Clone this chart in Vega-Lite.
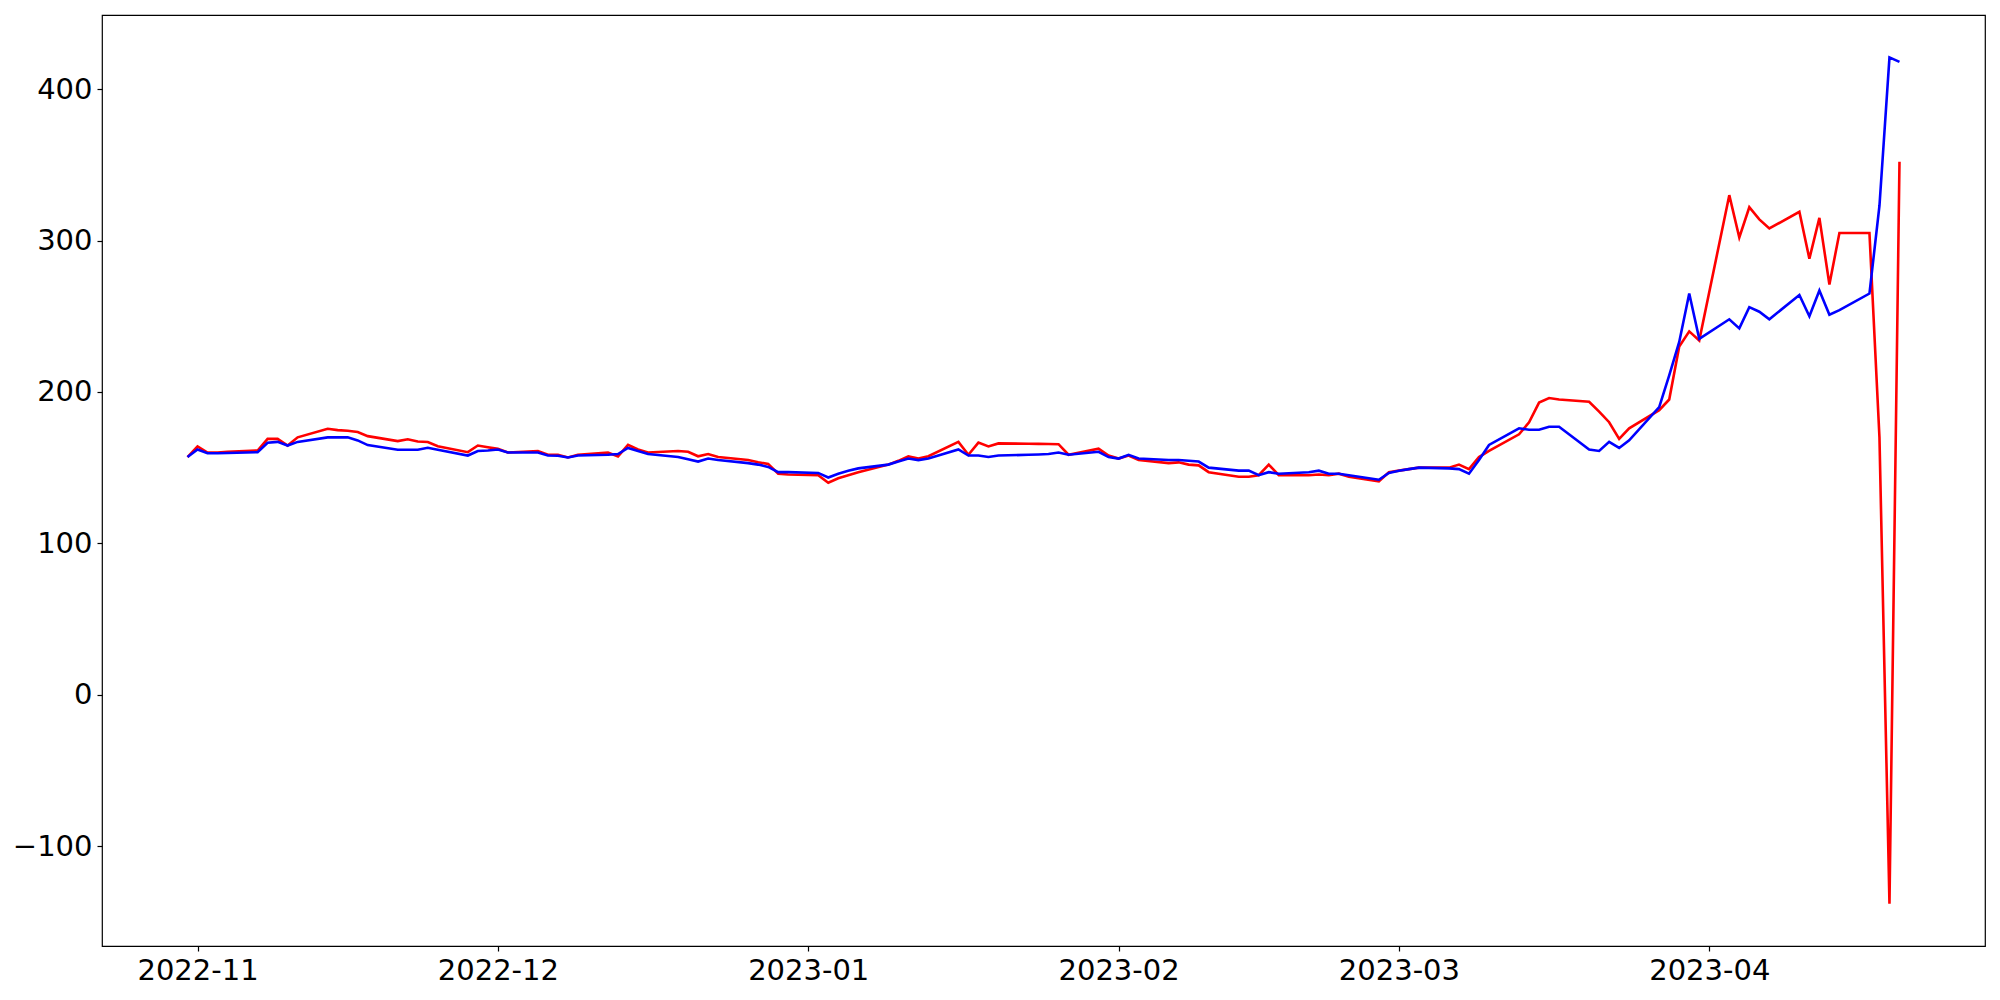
{
  "$schema": "https://vega.github.io/schema/vega-lite/v6.json",
  "autosize": "none",
  "width": 1883,
  "height": 931,
  "padding": {"left": 102, "top": 15, "right": 15, "bottom": 54},
  "background": "white",
  "config": {
    "font": "DejaVu Sans",
    "view": {"stroke": "black", "strokeWidth": 1.2},
    "axis": {
      "grid": false,
      "domain": false,
      "tickColor": "black",
      "tickSize": 5,
      "tickWidth": 1.2,
      "labelColor": "black",
      "labelFontSize": 29,
      "labelFont": "DejaVu Sans",
      "labelPadding": 5,
      "title": null
    }
  },
  "data": {
    "values": [
      {"date": "2022-10-31", "red": 157, "blue": 157},
      {"date": "2022-11-01", "red": 164, "blue": 162},
      {"date": "2022-11-02", "red": 160, "blue": 159.5},
      {"date": "2022-11-03", "red": 160, "blue": 159.5},
      {"date": "2022-11-04", "red": 160.5, "blue": 159.7},
      {"date": "2022-11-07", "red": 161.3, "blue": 160.2},
      {"date": "2022-11-08", "red": 169, "blue": 166.4},
      {"date": "2022-11-09", "red": 169, "blue": 167},
      {"date": "2022-11-10", "red": 164.6, "blue": 164.6},
      {"date": "2022-11-11", "red": 170, "blue": 167},
      {"date": "2022-11-14", "red": 175.7, "blue": 170},
      {"date": "2022-11-15", "red": 174.8, "blue": 170},
      {"date": "2022-11-16", "red": 174.4, "blue": 170},
      {"date": "2022-11-17", "red": 173.5, "blue": 168},
      {"date": "2022-11-18", "red": 170.8, "blue": 164.9},
      {"date": "2022-11-21", "red": 167.5, "blue": 161.8},
      {"date": "2022-11-22", "red": 168.7, "blue": 161.8},
      {"date": "2022-11-23", "red": 167.3, "blue": 161.8},
      {"date": "2022-11-24", "red": 166.9, "blue": 163.1},
      {"date": "2022-11-25", "red": 164.1, "blue": 161.8},
      {"date": "2022-11-28", "red": 160.2, "blue": 158},
      {"date": "2022-11-29", "red": 164.6, "blue": 161},
      {"date": "2022-11-30", "red": 163.5, "blue": 161.3},
      {"date": "2022-12-01", "red": 162.4, "blue": 162},
      {"date": "2022-12-02", "red": 160, "blue": 160},
      {"date": "2022-12-05", "red": 161, "blue": 160},
      {"date": "2022-12-06", "red": 158.5, "blue": 158},
      {"date": "2022-12-07", "red": 158.5, "blue": 157.8},
      {"date": "2022-12-08", "red": 156.7, "blue": 156.7},
      {"date": "2022-12-09", "red": 158.5, "blue": 158},
      {"date": "2022-12-12", "red": 160, "blue": 158.5},
      {"date": "2022-12-13", "red": 157.4, "blue": 159},
      {"date": "2022-12-14", "red": 165, "blue": 163},
      {"date": "2022-12-15", "red": 162, "blue": 161},
      {"date": "2022-12-16", "red": 160, "blue": 159},
      {"date": "2022-12-19", "red": 161, "blue": 157},
      {"date": "2022-12-20", "red": 160.5, "blue": 155.5},
      {"date": "2022-12-21", "red": 157.5, "blue": 154},
      {"date": "2022-12-22", "red": 159, "blue": 156},
      {"date": "2022-12-23", "red": 157, "blue": 155},
      {"date": "2022-12-26", "red": 155, "blue": 153},
      {"date": "2022-12-27", "red": 153.5, "blue": 152},
      {"date": "2022-12-28", "red": 152.5, "blue": 150.5},
      {"date": "2022-12-29", "red": 146, "blue": 147},
      {"date": "2022-12-30", "red": 145.5, "blue": 147},
      {"date": "2023-01-02", "red": 145, "blue": 146.5},
      {"date": "2023-01-03", "red": 140, "blue": 143.5},
      {"date": "2023-01-04", "red": 143, "blue": 146},
      {"date": "2023-01-05", "red": 145, "blue": 148},
      {"date": "2023-01-06", "red": 147, "blue": 149.5},
      {"date": "2023-01-09", "red": 152, "blue": 152},
      {"date": "2023-01-10", "red": 154.5, "blue": 154},
      {"date": "2023-01-11", "red": 157.5, "blue": 156},
      {"date": "2023-01-12", "red": 156, "blue": 155},
      {"date": "2023-01-13", "red": 157.5, "blue": 156},
      {"date": "2023-01-16", "red": 167, "blue": 162},
      {"date": "2023-01-17", "red": 158.5, "blue": 158},
      {"date": "2023-01-18", "red": 166.5, "blue": 158},
      {"date": "2023-01-19", "red": 164, "blue": 157},
      {"date": "2023-01-20", "red": 166, "blue": 158},
      {"date": "2023-01-23", "red": 165.8, "blue": 158.5},
      {"date": "2023-01-24", "red": 165.7, "blue": 158.7},
      {"date": "2023-01-25", "red": 165.6, "blue": 159},
      {"date": "2023-01-26", "red": 165.5, "blue": 160},
      {"date": "2023-01-27", "red": 158.5, "blue": 158.5},
      {"date": "2023-01-30", "red": 162.5, "blue": 160.5},
      {"date": "2023-01-31", "red": 158, "blue": 157},
      {"date": "2023-02-01", "red": 156, "blue": 156},
      {"date": "2023-02-02", "red": 158, "blue": 158.5},
      {"date": "2023-02-03", "red": 155, "blue": 156},
      {"date": "2023-02-06", "red": 153, "blue": 155},
      {"date": "2023-02-07", "red": 153.5, "blue": 155},
      {"date": "2023-02-08", "red": 152, "blue": 154.5},
      {"date": "2023-02-09", "red": 151.5, "blue": 154},
      {"date": "2023-02-10", "red": 147, "blue": 150},
      {"date": "2023-02-13", "red": 144, "blue": 148},
      {"date": "2023-02-14", "red": 144, "blue": 148},
      {"date": "2023-02-15", "red": 145, "blue": 145},
      {"date": "2023-02-16", "red": 152, "blue": 147},
      {"date": "2023-02-17", "red": 145, "blue": 146},
      {"date": "2023-02-20", "red": 145, "blue": 147},
      {"date": "2023-02-21", "red": 145.5, "blue": 148},
      {"date": "2023-02-22", "red": 145, "blue": 146},
      {"date": "2023-02-23", "red": 146, "blue": 146},
      {"date": "2023-02-24", "red": 144, "blue": 145},
      {"date": "2023-02-27", "red": 141, "blue": 142},
      {"date": "2023-02-28", "red": 147, "blue": 146.5},
      {"date": "2023-03-01", "red": 148, "blue": 148},
      {"date": "2023-03-02", "red": 149, "blue": 149},
      {"date": "2023-03-03", "red": 150, "blue": 150},
      {"date": "2023-03-06", "red": 150, "blue": 149.5},
      {"date": "2023-03-07", "red": 152, "blue": 149},
      {"date": "2023-03-08", "red": 149, "blue": 146},
      {"date": "2023-03-09", "red": 157, "blue": 155},
      {"date": "2023-03-10", "red": 161, "blue": 165},
      {"date": "2023-03-13", "red": 172, "blue": 176},
      {"date": "2023-03-14", "red": 180, "blue": 175},
      {"date": "2023-03-15", "red": 193, "blue": 175},
      {"date": "2023-03-16", "red": 196, "blue": 177},
      {"date": "2023-03-17", "red": 195, "blue": 177},
      {"date": "2023-03-20", "red": 193.5, "blue": 162},
      {"date": "2023-03-21", "red": 187, "blue": 161},
      {"date": "2023-03-22", "red": 180, "blue": 167},
      {"date": "2023-03-23", "red": 169, "blue": 163},
      {"date": "2023-03-24", "red": 176, "blue": 168},
      {"date": "2023-03-27", "red": 188, "blue": 190},
      {"date": "2023-03-28", "red": 195, "blue": 211},
      {"date": "2023-03-29", "red": 230, "blue": 233},
      {"date": "2023-03-30", "red": 240, "blue": 265},
      {"date": "2023-03-31", "red": 234, "blue": 235},
      {"date": "2023-04-03", "red": 330, "blue": 248},
      {"date": "2023-04-04", "red": 302, "blue": 242},
      {"date": "2023-04-05", "red": 322, "blue": 256},
      {"date": "2023-04-06", "red": 314, "blue": 253},
      {"date": "2023-04-07", "red": 308, "blue": 248},
      {"date": "2023-04-10", "red": 319, "blue": 264},
      {"date": "2023-04-11", "red": 288, "blue": 250},
      {"date": "2023-04-12", "red": 315, "blue": 267},
      {"date": "2023-04-13", "red": 271, "blue": 251},
      {"date": "2023-04-14", "red": 305, "blue": 254},
      {"date": "2023-04-17", "red": 305, "blue": 265},
      {"date": "2023-04-18", "red": 170, "blue": 323},
      {"date": "2023-04-19", "red": -138, "blue": 421},
      {"date": "2023-04-20", "red": 352, "blue": 418}
    ]
  },
  "layer": [
    {
      "mark": {"type": "line", "color": "red", "strokeWidth": 2.6, "clip": true},
      "encoding": {
        "x": {
          "field": "date",
          "type": "temporal",
          "scale": {
            "type": "utc",
            "domain": [1666436400000, 1682686800000],
            "nice": false
          },
          "axis": {
            "format": "%Y-%m",
            "tickCount": {"interval": "month", "step": 1},
            "labelFlush": false,
            "labelOverlap": false
          }
        },
        "y": {
          "field": "red",
          "type": "quantitative",
          "scale": {"domain": [-166, 449], "nice": false, "zero": false},
          "axis": {"values": [-100, 0, 100, 200, 300, 400], "format": "d"}
        }
      }
    },
    {
      "mark": {"type": "line", "color": "blue", "strokeWidth": 2.6, "clip": true},
      "encoding": {
        "x": {"field": "date", "type": "temporal"},
        "y": {"field": "blue", "type": "quantitative"}
      }
    }
  ]
}
